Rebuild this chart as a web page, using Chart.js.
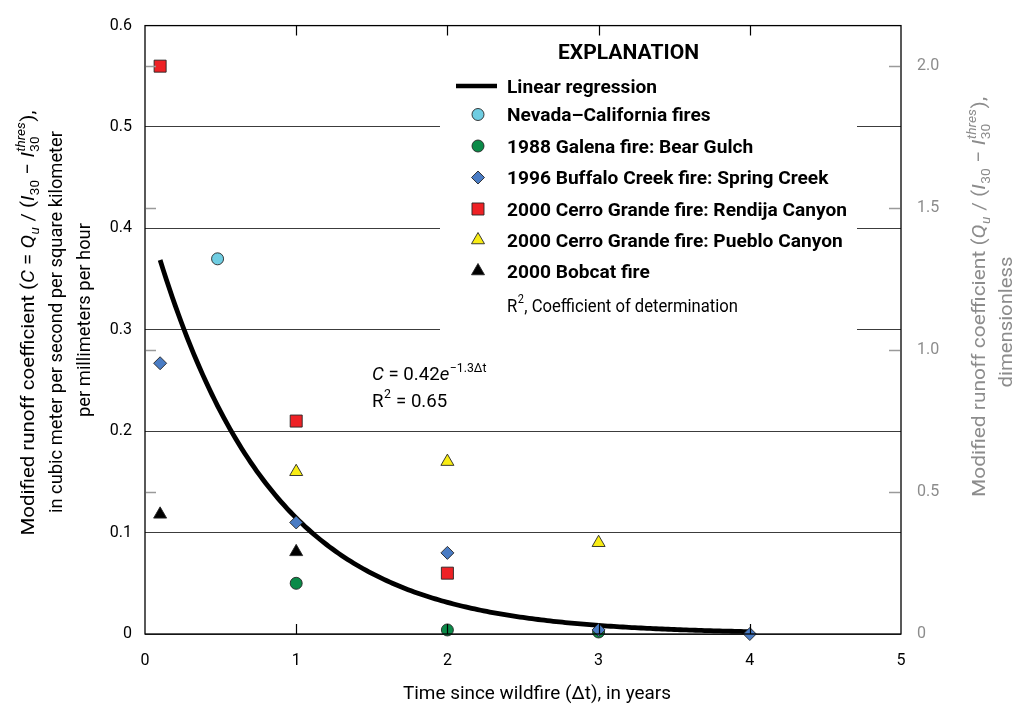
<!DOCTYPE html>
<html>
<head>
<meta charset="utf-8">
<script src="https://cdn.jsdelivr.net/npm/chart.js@4.4.1/dist/chart.umd.min.js"></script>
<style>
  html, body { margin: 0; padding: 0; background: #fff; }
  #wrap { width: 1017px; height: 706px; position: relative; }
</style>
</head>
<body>
<div id="wrap"><canvas id="c"></canvas></div>
<script>
// Time since wildfire (years) and modified runoff coefficient C for each basin
const nevadaYears = [0.48];
const nevadaC = [0.37];
const galenaYears = [1, 2, 3];
const galenaC = [0.05, 0.004, 0.002];
const buffaloYears = [0.1, 1, 2, 3, 4];
const buffaloC = [0.267, 0.11, 0.08, 0.004, 0];
const rendijaYears = [0.1, 1, 2];
const rendijaC = [0.56, 0.21, 0.06];
const puebloYears = [1, 2, 3];
const puebloC = [0.16, 0.17, 0.09];
const bobcatYears = [0.1, 1];
const bobcatC = [0.118, 0.081];

// Fitted decay C = a * e^(b * dt), as printed on the chart
const fitA = 0.42;
const fitB = -1.3;
const fitStart = 0.1;
const fitEnd = 4;

// Axis ticks
const xTickValues = [0, 1, 2, 3, 4, 5];
const xTickLabels = ['0', '1', '2', '3', '4', '5'];
const leftTickValues = [0, 0.1, 0.2, 0.3, 0.4, 0.5, 0.6];
const leftTickLabels = ['0', '0.1', '0.2', '0.3', '0.4', '0.5', '0.6'];
const rightTickValues = [0, 0.5, 1.0, 1.5, 2.0];
const rightTickLabels = ['0', '0.5', '1.0', '1.5', '2.0'];
const innerTickYears = [1, 2, 3, 4];
// C in m3/s/km2 per mm/h times this factor is the dimensionless coefficient scale
const dimensionlessPerC = 1 / 0.28;

const fitPoints = [];
for (let t = fitStart; t <= fitEnd + 1e-9; t += 0.02) {
  fitPoints.push({ x: t, y: fitA * Math.exp(fitB * t) });
}

const pairs = (xs, ys) => xs.map((x, i) => ({ x: x, y: ys[i] }));

const FONT = 'Roboto, "Liberation Sans", sans-serif';
const EDGE = '#262626';

const series = [
  { label: 'Nevada\u2013California fires', xs: nevadaYears, ys: nevadaC,
    style: { pointStyle: 'circle', radius: 6, bg: '#6fcde2' }, order: 6 },
  { label: '1988 Galena fire: Bear Gulch', xs: galenaYears, ys: galenaC,
    style: { pointStyle: 'circle', radius: 6, bg: '#0b8a48' }, order: 5 },
  { label: '1996 Buffalo Creek fire: Spring Creek', xs: buffaloYears, ys: buffaloC,
    style: { pointStyle: 'rectRot', radius: 6.5, bg: '#4a7cc4' }, order: 4 },
  { label: '2000 Cerro Grande fire: Rendija Canyon', xs: rendijaYears, ys: rendijaC,
    style: { pointStyle: 'rect', radius: 8.5, bg: '#ee2125' }, order: 3 },
  { label: '2000 Cerro Grande fire: Pueblo Canyon', xs: puebloYears, ys: puebloC,
    style: { pointStyle: 'triangle', radius: 7.5, bg: '#f8ec14' }, order: 2 },
  { label: '2000 Bobcat fire', xs: bobcatYears, ys: bobcatC,
    style: { pointStyle: 'triangle', radius: 7.5, bg: '#000000' }, order: 1 }
];

const datasets = [{
  label: 'Linear regression',
  data: fitPoints,
  showLine: true,
  borderColor: '#000',
  borderWidth: 4.8,
  pointRadius: 0,
  tension: 0,
  clip: false,
  order: 10,
  yAxisID: 'y'
}].concat(series.map(s => ({
  label: s.label,
  data: pairs(s.xs, s.ys),
  showLine: false,
  pointStyle: s.style.pointStyle,
  pointRadius: s.style.radius,
  pointBackgroundColor: s.style.bg,
  pointBorderColor: EDGE,
  pointBorderWidth: 0.9,
  clip: false,
  order: s.order,
  yAxisID: 'y'
})));

// ---------- rich text helpers (italics, sub/superscripts, condensed width) ----------
function fontStr(size, italic, bold) {
  return (italic ? 'italic ' : '') + (bold ? 'bold ' : '') + size + 'px ' + FONT;
}
function segWidth(ctx, s, size, bold) {
  const small = size * 0.66;
  if (s.t !== undefined) { ctx.font = fontStr(size, s.i, bold); return ctx.measureText(s.t).width; }
  let w = 0;
  if (s.sub !== undefined) { ctx.font = fontStr(small, s.subI, bold); w = Math.max(w, ctx.measureText(s.sub).width); }
  if (s.sup !== undefined) { ctx.font = fontStr(small, s.supI, bold); w = Math.max(w, ctx.measureText(s.sup).width); }
  return w + 1;
}
function richWidth(ctx, segs, size, bold) {
  return segs.reduce((a, s) => a + segWidth(ctx, s, size, bold), 0);
}
function drawRich(ctx, segs, o) {
  const size = o.size, bold = !!o.bold;
  const natural = richWidth(ctx, segs, size, bold);
  const sx = o.width ? o.width / natural : (o.sx || 1);
  ctx.save();
  ctx.translate(o.x, o.y);
  if (o.angle) ctx.rotate(o.angle);
  ctx.scale(sx, 1);
  ctx.fillStyle = o.color || '#000';
  ctx.textAlign = 'left';
  ctx.textBaseline = 'alphabetic';
  const widths = segs.map(s => segWidth(ctx, s, size, bold));
  const total = widths.reduce((a, b) => a + b, 0);
  let cx = o.align === 'center' ? -total / 2 : (o.align === 'right' ? -total : 0);
  const base = 0.36 * size;
  const small = size * 0.66;
  segs.forEach((s, k) => {
    if (s.t !== undefined) {
      ctx.font = fontStr(size, s.i, bold);
      ctx.fillText(s.t, cx, base);
    } else {
      if (s.sub !== undefined) {
        ctx.font = fontStr(small, s.subI, bold);
        ctx.fillText(s.sub, cx + 0.5, base + 0.26 * size);
      }
      if (s.sup !== undefined) {
        ctx.font = fontStr(small, s.supI, bold);
        ctx.fillText(s.sup, cx + 0.5, base - 0.44 * size);
      }
    }
    cx += widths[k];
  });
  ctx.restore();
  return sx;
}

const leftTitle = [
  [{ t: 'Modified runoff coefficient (' }, { t: 'C', i: true }, { t: ' = ' }, { t: 'Q', i: true },
   { sub: 'u', subI: true }, { t: ' / (' }, { t: 'I', i: true }, { sub: '30' }, { t: ' \u2212 ' },
   { t: 'I', i: true }, { sub: '30', sup: 'thres', supI: true }, { t: '),' }],
  [{ t: 'in cubic meter per second per square kilometer' }],
  [{ t: 'per millimeters per hour' }]
];
const rightTitle = [
  [{ t: 'Modified runoff coefficient (' }, { t: 'Q', i: true }, { sub: 'u', subI: true },
   { t: ' / (' }, { t: 'I', i: true }, { sub: '30' }, { t: ' \u2212 ' },
   { t: 'I', i: true }, { sub: '30', sup: 'thres', supI: true }, { t: '),' }],
  [{ t: 'dimensionless' }]
];
const xTitle = [{ t: 'Time since wildfire (\u0394t), in years' }];
const eqLine1 = [{ t: 'C', i: true }, { t: ' = 0.42' }, { t: 'e', i: true }, { sup: '\u22121.3\u0394t' }];
const eqLine2 = [{ t: 'R' }, { sup: '2' }, { t: ' = 0.65' }];
const r2Entry = [{ t: 'R' }, { sup: '2' }, { t: ', Coefficient of determination' }];

const decorations = {
  id: 'decorations',
  afterDraw(chart) {
    const ctx = chart.ctx;
    const a = chart.chartArea;
    const xs = chart.scales.x, yr = chart.scales.y2;
    const textSize = 19;

    // explanation panel
    ctx.save();
    ctx.fillStyle = '#fff';
    ctx.fillRect(440, a.top + 1, 417, 312);
    ctx.restore();

    // frame
    ctx.save();
    ctx.strokeStyle = '#000';
    ctx.lineWidth = 1.3;
    ctx.strokeRect(a.left, a.top, a.right - a.left, a.bottom - a.top);

    // year ticks along top and bottom edges
    ctx.lineWidth = 1.2;
    ctx.beginPath();
    innerTickYears.forEach(v => {
      const px = Math.round(xs.getPixelForValue(v)) + 0.5;
      ctx.moveTo(px, a.bottom); ctx.lineTo(px, a.bottom - 10);
      ctx.moveTo(px, a.top); ctx.lineTo(px, a.top + 10);
    });
    ctx.stroke();

    // dimensionless scale ticks on both side edges
    ctx.strokeStyle = '#9a9a9a';
    ctx.lineWidth = 1.3;
    ctx.beginPath();
    rightTickValues.slice(1).forEach(v => {
      const py = Math.round(yr.getPixelForValue(v)) + 0.5;
      ctx.moveTo(a.left + 1, py); ctx.lineTo(a.left + 11, py);
      ctx.moveTo(a.right - 1, py); ctx.lineTo(a.right - 12, py);
    });
    ctx.stroke();
    ctx.restore();

    // legend
    drawRich(ctx, [{ t: 'EXPLANATION' }], { x: 628.5, y: 51.5, size: 21, bold: true, align: 'center', width: 141 });
    const rowY = [86, 114.5, 146, 177.5, 209, 240, 271];
    const markX = 478, textX = 507;
    ctx.save();
    ctx.strokeStyle = '#000';
    ctx.lineWidth = 4.5;
    ctx.beginPath();
    ctx.moveTo(456, rowY[0]); ctx.lineTo(497, rowY[0]);
    ctx.stroke();
    ctx.restore();
    const sxBold = drawRich(ctx, [{ t: 'Linear regression' }], { x: textX, y: rowY[0], size: textSize, bold: true, width: 150 });
    series.forEach((s, k) => {
      const y = rowY[k + 1];
      ctx.save();
      ctx.fillStyle = s.style.bg;
      ctx.strokeStyle = EDGE;
      ctx.lineWidth = 0.9;
      Chart.helpers.drawPoint(ctx, { pointStyle: s.style.pointStyle, radius: s.style.radius, rotation: 0, borderWidth: 0.9 }, markX, y);
      ctx.restore();
      drawRich(ctx, [{ t: s.label }], { x: textX, y: y, size: textSize, bold: true, sx: sxBold });
    });
    drawRich(ctx, r2Entry, { x: textX, y: 305, size: textSize, width: 231 });

    // regression equation
    const sxEq = drawRich(ctx, eqLine1, { x: 372, y: 373.5, size: textSize, width: 115 });
    drawRich(ctx, eqLine2, { x: 372, y: 400, size: textSize, sx: sxEq });

    // axis titles
    drawRich(ctx, xTitle, { x: 537, y: 692, size: textSize, align: 'center', width: 268 });
    const leftX = [27, 55, 83];
    const leftY = [323, 322, 320];
    const rot = -Math.PI / 2;
    drawRich(ctx, leftTitle[0], { x: leftX[0], y: leftY[0], size: textSize, align: 'center', width: 425, angle: rot });
    const sxLeft = drawRich(ctx, leftTitle[1], { x: leftX[1], y: leftY[1], size: textSize, align: 'center', width: 382, angle: rot });
    drawRich(ctx, leftTitle[2], { x: leftX[2], y: leftY[2], size: textSize, align: 'center', sx: sxLeft, angle: rot });
    const rightX = [978, 1005];
    const rightW = [400, 131];
    const rightY = [297, 322];
    rightTitle.forEach((line, k) => {
      drawRich(ctx, line, { x: rightX[k], y: rightY[k], size: textSize, align: 'center', width: rightW[k], angle: rot, color: '#8c8c8c' });
    });
  }
};

const tickFont = { family: FONT, size: 16 };

new Chart(document.getElementById('c'), {
  type: 'scatter',
  data: { datasets: datasets },
  options: {
    responsive: true,
    maintainAspectRatio: false,
    animation: false,
    events: [],
    layout: { padding: { top: 12, left: 0, right: 0, bottom: 0 }, autoPadding: false },
    plugins: { legend: { display: false }, tooltip: { enabled: false } },
    scales: {
      x: {
        type: 'linear', min: 0, max: 5,
        afterBuildTicks: s => { s.ticks = xTickValues.map(v => ({ value: v })); },
        afterFit: s => { s.height = 72; },
        ticks: { font: tickFont, color: '#000', padding: 17, maxRotation: 0,
                 callback: (v, i) => xTickLabels[i] },
        grid: { display: false, drawTicks: false },
        border: { display: false }
      },
      y: {
        type: 'linear', position: 'left', min: 0, max: 0.6,
        afterBuildTicks: s => { s.ticks = leftTickValues.map(v => ({ value: v })); },
        afterFit: s => { s.width = 145; },
        ticks: { font: tickFont, color: '#000', padding: 13,
                 callback: (v, i) => leftTickLabels[i] },
        grid: { color: '#3c3c3c', lineWidth: 1, drawTicks: false },
        border: { display: false }
      },
      y2: {
        type: 'linear', position: 'right', min: 0, max: 0.6 * dimensionlessPerC,
        afterBuildTicks: s => { s.ticks = rightTickValues.map(v => ({ value: v })); },
        afterFit: s => { s.width = 116; },
        ticks: { font: tickFont, color: '#8c8c8c', padding: 16,
                 callback: (v, i) => rightTickLabels[i] },
        grid: { display: false, drawTicks: false },
        border: { display: false }
      }
    }
  },
  plugins: [decorations]
});
</script>
</body>
</html>
